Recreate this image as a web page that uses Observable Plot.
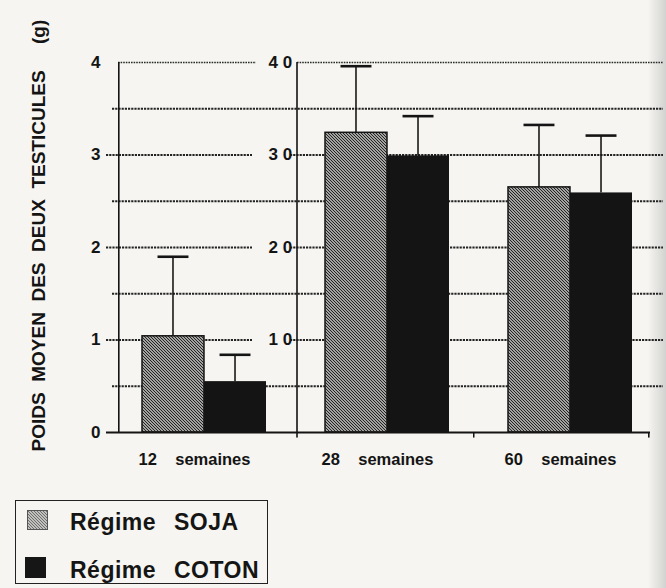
<!DOCTYPE html>
<html>
<head>
<meta charset="utf-8">
<script src="https://cdn.jsdelivr.net/npm/d3@7"></script>
<script src="https://cdn.jsdelivr.net/npm/@observablehq/plot@0.6"></script>
<style>
  html, body { margin: 0; padding: 0; }
  body {
    width: 666px; height: 588px; overflow: hidden; position: relative;
    background: linear-gradient(to right, #f6f5f1 0, #f6f5f1 648px, #d2d2d0 666px);
    font-family: "Liberation Sans", Arial, Helvetica, sans-serif;
  }
  #chart svg { display: block; }
  g[aria-label="ticks-right"] text { letter-spacing: 3.6px; }
  #legend {
    position: absolute; left: 15px; top: 500px; width: 253px; height: 84px;
    box-sizing: border-box; border: 1.6px solid #222;
  }
  #legend .sw { position: absolute; }
  #legend .lt {
    position: absolute; left: 54px; font-size: 23px; line-height: 23px;
    font-weight: bold; color: #151515; letter-spacing: 0.5px; word-spacing: 11px; white-space: nowrap;
  }
</style>
</head>
<body>
<svg width="0" height="0" style="position:absolute">
  <defs>
    <pattern id="hatch" patternUnits="userSpaceOnUse" width="3" height="3">
      <rect width="3" height="3" fill="#a2a2a0"></rect>
      <path d="M-1,2 l2,2 M0,0 l3,3 M2,-1 l2,2" stroke="#242424" stroke-width="1"></path>
    </pattern>
    <pattern id="hatchLight" patternUnits="userSpaceOnUse" width="3" height="3">
      <rect width="3" height="3" fill="#c0c0be"></rect>
      <path d="M-1,2 l2,2 M0,0 l3,3 M2,-1 l2,2" stroke="#4a4a4a" stroke-width="0.7"></path>
    </pattern>
  </defs>
</svg>
<div id="chart"></div>
<div id="legend">
  <div class="sw" style="left:11px;top:9px;"><svg width="21" height="20"><rect x="0.5" y="0.5" width="20" height="19" fill="url(#hatchLight)" stroke="#555" stroke-width="1"></rect></svg></div>
  <div class="lt" style="top:10px;">Régime SOJA</div>
  <div class="sw" style="left:9px;top:56px;"><svg width="21" height="21"><rect width="21" height="21" fill="#161616"></rect></svg></div>
  <div class="lt" style="top:58px;">Régime COTON</div>
</div>
<script>
// ---- data ----
const groups = ["12 semaines", "28 semaines", "60 semaines"];
const axisDivisor = [1, 10, 10];          // 12 sem. on left axis (0-4), others on second axis (0-40)
const sojaMean  = [1.04, 32.4, 26.5];
const sojaSD    = [0.86, 7.2, 6.75];
const cotonMean = [0.55, 29.9, 25.9];
const cotonSD   = [0.29, 4.3, 6.2];
const leftTicks  = [0, 1, 2, 3, 4];
const rightTicks = [10, 20, 30, 40];
const halfLines  = [0.5, 1.5, 2.5, 3.5];
const yTitle = "POIDS MOYEN DES DEUX TESTICULES";
const yUnit = "(g)";

const rows = (means, sds, regime) => groups.map((g, i) => ({
  group: g, regime,
  mean: means[i] / axisDivisor[i],
  top: (means[i] + sds[i]) / axisDivisor[i]
}));
const soja = rows(sojaMean, sojaSD, "SOJA");
const coton = rows(cotonMean, cotonSD, "COTON");

// ---- layout ----
const W = 666, H = 490, mL = 118, mR = 0, mT = 62, mB = 58;
const frameW = W - mL - mR;
const step = 183.5, pad = 0.324;
const bw = step * (1 - pad);
const r0 = 203 - pad * step - bw / 2;
const r1 = r0 + step * (groups.length + pad);
const ink = "#141414";
const dash = {stroke: "#232323", strokeWidth: 2, strokeDasharray: "2.2,1"};
const dots = {stroke: "#2a2a2a", strokeWidth: 1.3, strokeDasharray: "1.6,1"};
const axis2 = 297;
const nb = "\u00a0";
const titleText = yTitle.split(" ").join(nb + nb) + nb.repeat(5) + yUnit;

const plot = Plot.plot({
  width: W, height: H,
  marginLeft: mL, marginRight: mR, marginTop: mT, marginBottom: mB,
  style: {background: "transparent", fontFamily: "'Liberation Sans', Arial, Helvetica, sans-serif", overflow: "visible"},
  x: {domain: groups, range: [r0, r1], padding: pad, axis: null},
  y: {domain: [0, 4], axis: null},
  marks: [
    // grid lines
    Plot.ruleY(halfLines, {y: d => d, insetLeft: -6, insetRight: 3, ...dash}),
    Plot.ruleY(leftTicks.filter(d => d > 0 && d < 4), {y: d => d, insetLeft: -12, insetRight: W - 252, ...dash}),
    Plot.ruleY(leftTicks.filter(d => d === 4), {y: d => d, insetLeft: 0, insetRight: W - 256, ...dots}),
    Plot.ruleY(rightTicks.filter(d => d < 40), {y: d => d / 10, insetLeft: 290 - mL, insetRight: 3, ...dash}),
    Plot.ruleY(rightTicks.filter(d => d === 40), {y: d => d / 10, insetLeft: axis2 - mL, insetRight: 3, ...dots}),
    // bars
    Plot.barY(soja, {x: "group", y1: 0, y2: "mean", fill: "url(#hatch)", stroke: ink, strokeWidth: 1.5, insetRight: bw / 2}),
    Plot.barY(coton, {x: "group", y1: 0, y2: "mean", fill: ink, insetLeft: bw / 2}),
    // error bars
    Plot.barY(soja, {x: "group", y1: "mean", y2: "top", fill: ink, insetLeft: bw / 4 - 0.8, insetRight: bw * 3 / 4 - 0.8}),
    Plot.barY(coton, {x: "group", y1: "mean", y2: "top", fill: ink, insetLeft: bw * 3 / 4 - 0.8, insetRight: bw / 4 - 0.8}),
    Plot.tickY(soja, {x: "group", y: "top", stroke: ink, strokeWidth: 2.6, insetLeft: bw / 4 - 15.5, insetRight: bw * 3 / 4 - 15.5}),
    Plot.tickY(coton, {x: "group", y: "top", stroke: ink, strokeWidth: 2.6, insetLeft: bw * 3 / 4 - 15.5, insetRight: bw / 4 - 15.5}),
    // axis lines
    Plot.ruleY([0], {y: d => d, insetLeft: -12, insetRight: 16, stroke: ink, strokeWidth: 1.8}),
    Plot.barY(leftTicks.slice(-1), {y1: 0, y2: d => d, fill: ink, insetLeft: 0, insetRight: frameW - 1.6}),
    Plot.barY(rightTicks.slice(-1), {y1: -0.06, y2: d => d / 10, fill: ink, insetLeft: axis2 - mL - 0.8, insetRight: W - axis2 - 0.8}),
    Plot.barY([0], {y1: -0.06, y2: d => d, fill: ink, insetLeft: 473 - mL, insetRight: W - 474.5}),
    Plot.barY([0], {y1: -0.06, y2: d => d, fill: ink, insetLeft: 648 - mL, insetRight: W - 649.6}),
    // tick labels
    Plot.text(leftTicks, {y: d => d, text: d => String(d), frameAnchor: "left", dx: -18, textAnchor: "end",
      fontSize: 17, fontWeight: "bold", fill: ink}),
    Plot.text(rightTicks, {y: d => d / 10, text: d => String(d).split("").join(" "), frameAnchor: "left",
      dx: 288 - mL + 3.6, textAnchor: "end", fontSize: 17, fontWeight: "bold", fill: ink, ariaLabel: "ticks-right"}),
    Plot.text(groups, {x: d => d, text: d => d.replace(" ", nb + nb + nb + nb), frameAnchor: "bottom", dx: -10, dy: 32,
      fontSize: 16.5, fontWeight: "bold", fill: ink, ariaLabel: "x-labels"}),
    // y title with unit
    Plot.text([titleText], {text: d => d, frameAnchor: "bottom-left", dx: -74, dy: 19, rotate: -90,
      textAnchor: "start", fontSize: 19, fontWeight: "bold", fill: ink, ariaLabel: "y-title"})
  ]
});
document.getElementById("chart").appendChild(plot);
const t = plot.querySelector('g[aria-label="y-title"] text');
if (t) { t.setAttribute("textLength", 428); t.setAttribute("lengthAdjust", "spacingAndGlyphs"); }
</script>
</body>
</html>
